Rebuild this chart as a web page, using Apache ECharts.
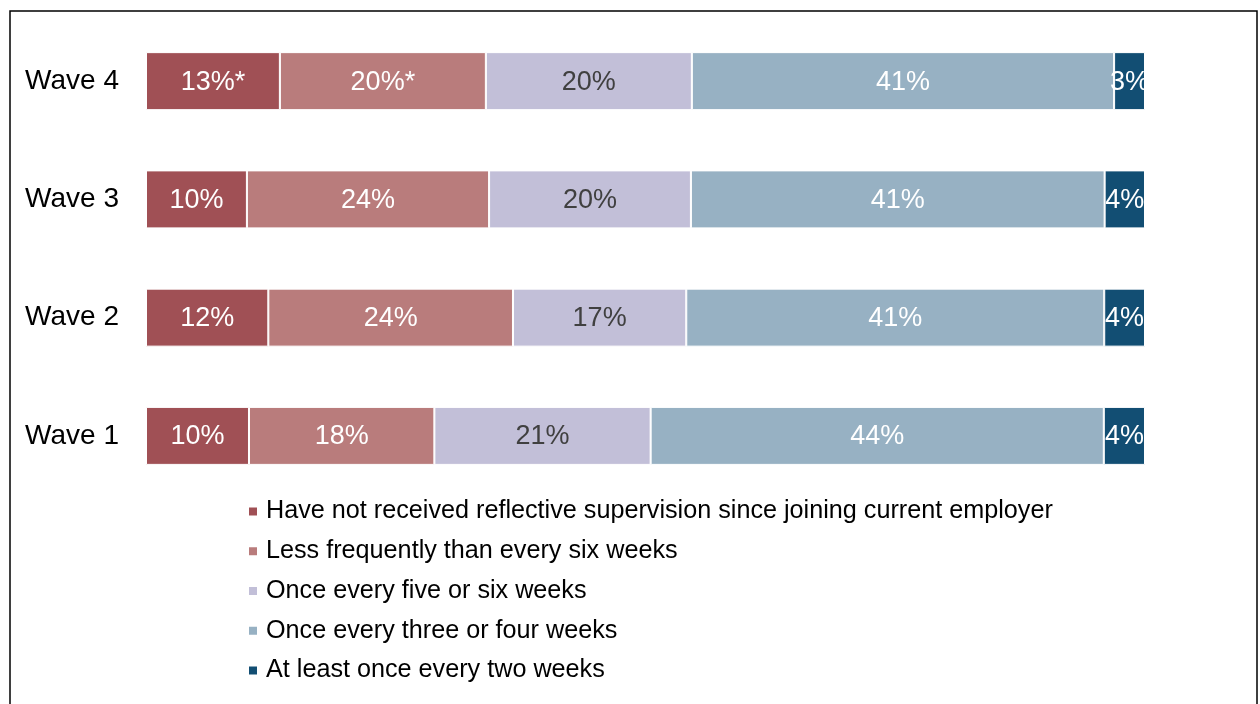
<!DOCTYPE html>
<html>
<head>
<meta charset="utf-8">
<script src="https://cdn.jsdelivr.net/npm/echarts@6/dist/echarts.min.js"></script>
<style>
html, body { margin: 0; padding: 0; background: #fff; }
#chart { width: 1260px; height: 704px; }
</style>
</head>
<body>
<div id="chart"></div>
<script>
// 分类（从下到上）
var waves = ['Wave 1', 'Wave 2', 'Wave 3', 'Wave 4'];

var seriesNames = [
	'Have not received reflective supervision since joining current employer',
	'Less frequently than every six weeks',
	'Once every five or six weeks',
	'Once every three or four weeks',
	'At least once every two weeks'
];

// 各系列原始百分比（Wave 1..4）
var notReceived = [10, 12, 10, 13];
var lessFrequent = [18, 24, 24, 20];
var fiveSixWeeks = [21, 17, 20, 20];
var threeFourWeeks = [44, 41, 41, 41];
var twoWeeks = [4, 4, 4, 3];

// 显著性标记
var marks = [
	['', '', '', '*'],
	['', '', '', '*'],
	['', '', '', ''],
	['', '', '', ''],
	['', '', '', '']
];

var colors = ['#a05055', '#b97c7c', '#c2bfd8', '#97b1c3', '#124e73'];
var labelColors = ['#fff', '#fff', '#404040', '#fff', '#fff'];

var allData = [notReceived, lessFrequent, fiveSixWeeks, threeFourWeeks, twoWeeks];

// 每行合计（堆叠到100%）
var totals = waves.map(function(w, i) {
	var s = 0;
	allData.forEach(function(arr) { s += arr[i]; });
	return s;
});

var myChart = echarts.init(document.getElementById('chart'));

var series = allData.map(function(arr, k) {
	return {
		name: seriesNames[k],
		type: 'bar',
		stack: 'total',
		barWidth: 58,
		itemStyle: {
			color: colors[k],
			borderColor: '#fff',
			borderWidth: 1
		},
		label: {
			show: true,
			position: 'inside',
			offset: [0, 1],
			color: labelColors[k],
			fontFamily: 'Liberation Sans, Arial, sans-serif',
			fontSize: 27,
			formatter: function(p) {
				return arr[p.dataIndex] + '%' + marks[k][p.dataIndex];
			}
		},
		data: arr.map(function(v, i) {
			return v / totals[i] * 100;
		})
	};
});

var option = {
	animation: false,
	backgroundColor: '#fff',
	graphic: [{
		type: 'rect',
		shape: { x: 10, y: 11, width: 1247, height: 720 },
		style: { fill: 'none', stroke: '#000', lineWidth: 1.5 },
		silent: true
	}],
	grid: {
		left: 146,
		right: 115,
		top: 22,
		bottom: 209
	},
	xAxis: {
		type: 'value',
		min: 0,
		max: 100,
		show: false
	},
	yAxis: {
		type: 'category',
		data: waves,
		axisLine: { show: false },
		axisTick: { show: false },
		axisLabel: {
			color: '#000',
			fontSize: 28,
			fontFamily: 'Liberation Sans, Arial, sans-serif',
			margin: 27
		}
	},
	legend: {
		orient: 'vertical',
		left: 242,
		top: 494,
		itemWidth: 10,
		itemHeight: 10,
		itemGap: 14.75,
		icon: 'rect',
		textStyle: {
			color: '#000',
			fontSize: 25.2,
			lineHeight: 25,
			fontFamily: 'Liberation Sans, Arial, sans-serif',
			padding: [0, 0, 0, 3]
		},
		data: seriesNames
	},
	series: series
};

myChart.setOption(option);
window.addEventListener('resize', function() {
	myChart.resize();
});
</script>
</body>
</html>
